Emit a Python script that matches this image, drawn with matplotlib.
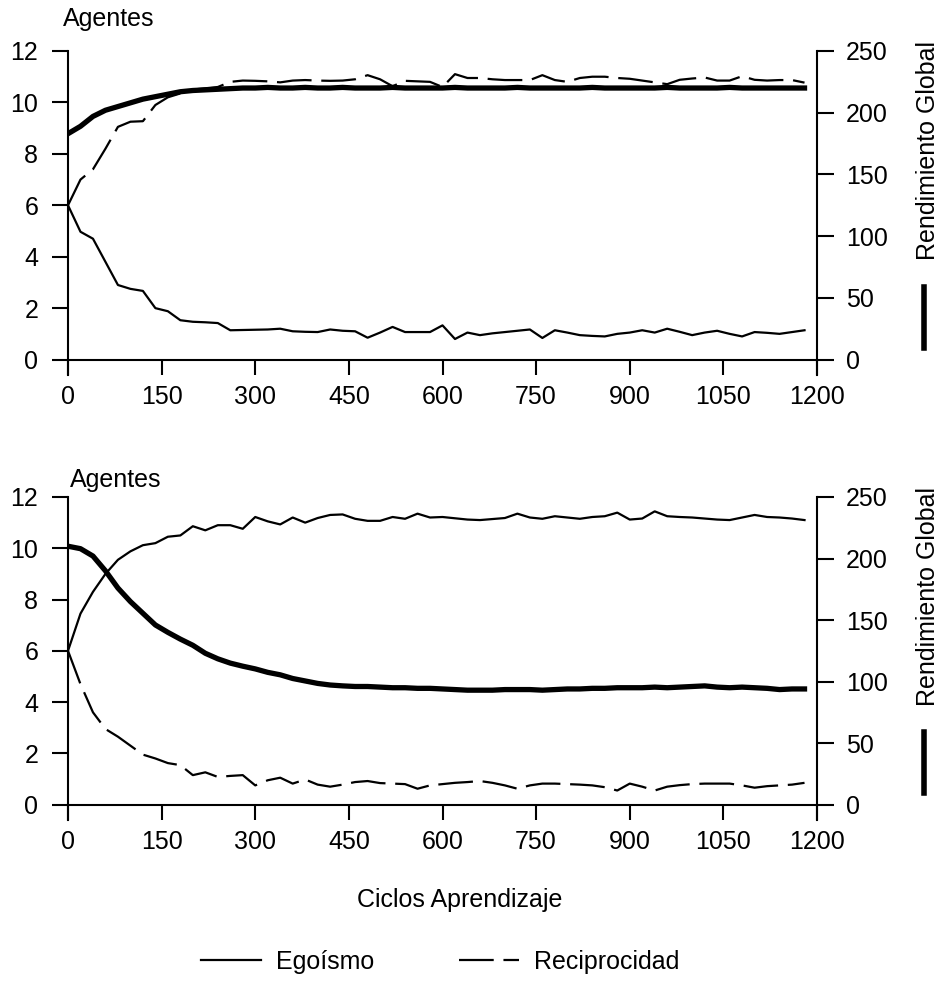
import matplotlib
matplotlib.use('Agg')
import matplotlib.pyplot as plt
from matplotlib.lines import Line2D

plt.rcParams['font.family'] = ['Liberation Sans', 'DejaVu Sans']
plt.rcParams['lines.scale_dashes'] = False

# ciclos de aprendizaje (cada 20)
ciclos = list(range(0, 1200, 20))

# panel superior
ego_top = [6.0, 4.97, 4.7, 3.8, 2.9, 2.75, 2.67, 2.0, 1.88, 1.53,
           1.47, 1.45, 1.42, 1.14, 1.15, 1.16, 1.17, 1.2, 1.1, 1.08,
           1.07, 1.17, 1.12, 1.1, 0.85, 1.05, 1.27, 1.07, 1.07, 1.07,
           1.33, 0.8, 1.05, 0.95, 1.02, 1.07, 1.12, 1.17, 0.84, 1.14,
           1.05, 0.95, 0.92, 0.9, 1.0, 1.05, 1.14, 1.05, 1.2, 1.08,
           0.95, 1.05, 1.12, 1.0, 0.9, 1.07, 1.04, 1.0, 1.07, 1.14]
rec_top = [6.0, 7.0, 7.4, 8.2, 9.05, 9.25, 9.27, 9.9, 10.2, 10.35,
           10.5, 10.55, 10.6, 10.8, 10.85, 10.84, 10.82, 10.78, 10.85, 10.87,
           10.85, 10.84, 10.85, 10.9, 11.06, 10.9, 10.63, 10.84, 10.82, 10.8,
           10.6, 11.1, 10.95, 10.95, 10.9, 10.87, 10.87, 10.87, 11.06, 10.87,
           10.8, 10.95, 11.0, 11.0, 10.95, 10.92, 10.85, 10.78, 10.71, 10.88,
           10.93, 10.97, 10.85, 10.85, 11.02, 10.88, 10.85, 10.87, 10.87, 10.77]
ren_top = [183, 189, 197, 202, 205, 208, 211, 213, 215, 217,
           218, 218.5, 219, 219.5, 220, 220, 220.5, 220, 220, 220.5,
           220, 220, 220.5, 220, 220, 220, 220.5, 220, 220, 220,
           220, 220.5, 220, 220, 220, 220, 220.5, 220, 220, 220,
           220, 220, 220.5, 220, 220, 220, 220, 220, 220.5, 220,
           220, 220, 220, 220.5, 220, 220, 220, 220, 220, 220]

# panel inferior
ego_bot = [6.0, 7.45, 8.3, 9.0, 9.55, 9.88, 10.12, 10.2, 10.45, 10.5,
           10.86, 10.7, 10.9, 10.9, 10.76, 11.22, 11.05, 10.93, 11.2, 11.0,
           11.18, 11.3, 11.32, 11.15, 11.07, 11.07, 11.22, 11.15, 11.35, 11.2,
           11.22, 11.17, 11.12, 11.1, 11.14, 11.18, 11.35, 11.2, 11.15, 11.25,
           11.2, 11.15, 11.22, 11.25, 11.39, 11.12, 11.16, 11.44, 11.25, 11.22,
           11.2, 11.16, 11.12, 11.1, 11.2, 11.3, 11.22, 11.2, 11.16, 11.1]
rec_bot = [6.0, 4.7, 3.6, 2.95, 2.65, 2.3, 1.95, 1.8, 1.62, 1.54,
           1.15, 1.26, 1.08, 1.12, 1.15, 0.75, 0.95, 1.05, 0.82, 0.98,
           0.78, 0.7, 0.78, 0.88, 0.92, 0.84, 0.82, 0.8, 0.62, 0.75,
           0.8, 0.85, 0.88, 0.92, 0.85, 0.75, 0.62, 0.75, 0.82, 0.82,
           0.8, 0.78, 0.75, 0.68, 0.55, 0.82, 0.7, 0.55, 0.7, 0.76,
           0.8, 0.82, 0.82, 0.82, 0.75, 0.66, 0.72, 0.75, 0.78, 0.85]
ren_bot = [210, 208, 202, 190, 176, 165, 155.5, 146, 140, 134.5,
           129.5, 123, 118.5, 115, 112.5, 110.3, 107.5, 105.5, 102.5, 100.5,
           98.5, 97.2, 96.5, 96, 96, 95.5, 95, 95, 94.5, 94.5,
           94, 93.5, 93, 93, 93, 93.5, 93.5, 93.5, 93, 93.5,
           94, 94, 94.5, 94.5, 95, 95, 95, 95.5, 95, 95.5,
           96, 96.5, 95.5, 95, 95.5, 95, 94.5, 93.5, 94, 94]

W, H = 945, 983
fig = plt.figure(figsize=(W / 100, H / 100), dpi=100)
fs = 18
dash = (0, (25, 7))


def panel(top_px, bottom_px, ego, rec, ren):
    rect = [68 / W, 1 - bottom_px / H, 749 / W, (bottom_px - top_px) / H]
    ax = fig.add_axes(rect)
    ax.plot(ciclos, ego, color='k', lw=1.6)
    ax.plot(ciclos, rec, color='k', lw=1.6, ls=dash)
    ax.axhline(0, color='k', lw=1.5)
    ax.set_xlim(0, 1200)
    ax.set_ylim(-0.6, 12)
    ax.set_xticks(range(0, 1201, 150))
    ax.set_yticks(range(0, 13, 2))
    for s in ['top', 'bottom', 'right']:
        ax.spines[s].set_visible(False)
    ax.spines['left'].set_linewidth(1.5)
    ax.tick_params(axis='y', direction='out', length=11.5, width=1.5, labelsize=fs, pad=10)
    ax.tick_params(axis='x', direction='in', length=11, width=1.5, labelsize=fs, pad=7)

    ax2 = ax.twinx()
    ax2.plot(ciclos, ren, color='k', lw=3.8)
    ax2.set_ylim(-0.6 * 250 / 12, 250)
    ax2.set_yticks(range(0, 251, 50))
    for s in ['top', 'bottom', 'left']:
        ax2.spines[s].set_visible(False)
    ax2.spines['right'].set_linewidth(1.5)
    ax2.tick_params(axis='y', direction='out', length=12, width=1.5, labelsize=fs, pad=9)
    return ax, ax2


panel(51, 375, ego_top, rec_top, ren_top)
panel(497, 820, ego_bot, rec_bot, ren_bot)

# textos
fig.text(63 / W, 1 - 26 / H, 'Agentes', fontsize=fs, va='baseline', ha='left')
fig.text(70 / W, 1 - 487 / H, 'Agentes', fontsize=fs, va='baseline', ha='left')
for yc in (150, 597):
    fig.text(935 / W, 1 - yc / H, 'Rendimiento Global', fontsize=fs, rotation=90,
             rotation_mode='anchor', va='baseline', ha='center')
for y0, y1 in ((287, 348), (732, 793)):
    fig.add_artist(Line2D([924 / W, 924 / W], [1 - y0 / H, 1 - y1 / H], color='k', lw=4))
fig.text(460 / W, 1 - 907 / H, 'Ciclos Aprendizaje', fontsize=fs, va='baseline', ha='center')

handles = [Line2D([], [], color='k', lw=1.6),
           Line2D([], [], color='k', lw=1.6, ls=dash)]
fig.legend(handles, ['Egoísmo', 'Reciprocidad'], ncol=2, frameon=False,
           loc='center', bbox_to_anchor=(440 / W, 1 - 962 / H), fontsize=fs,
           handlelength=2.4, handletextpad=0.6, columnspacing=3.4)

fig.savefig('out.png', dpi=100)
